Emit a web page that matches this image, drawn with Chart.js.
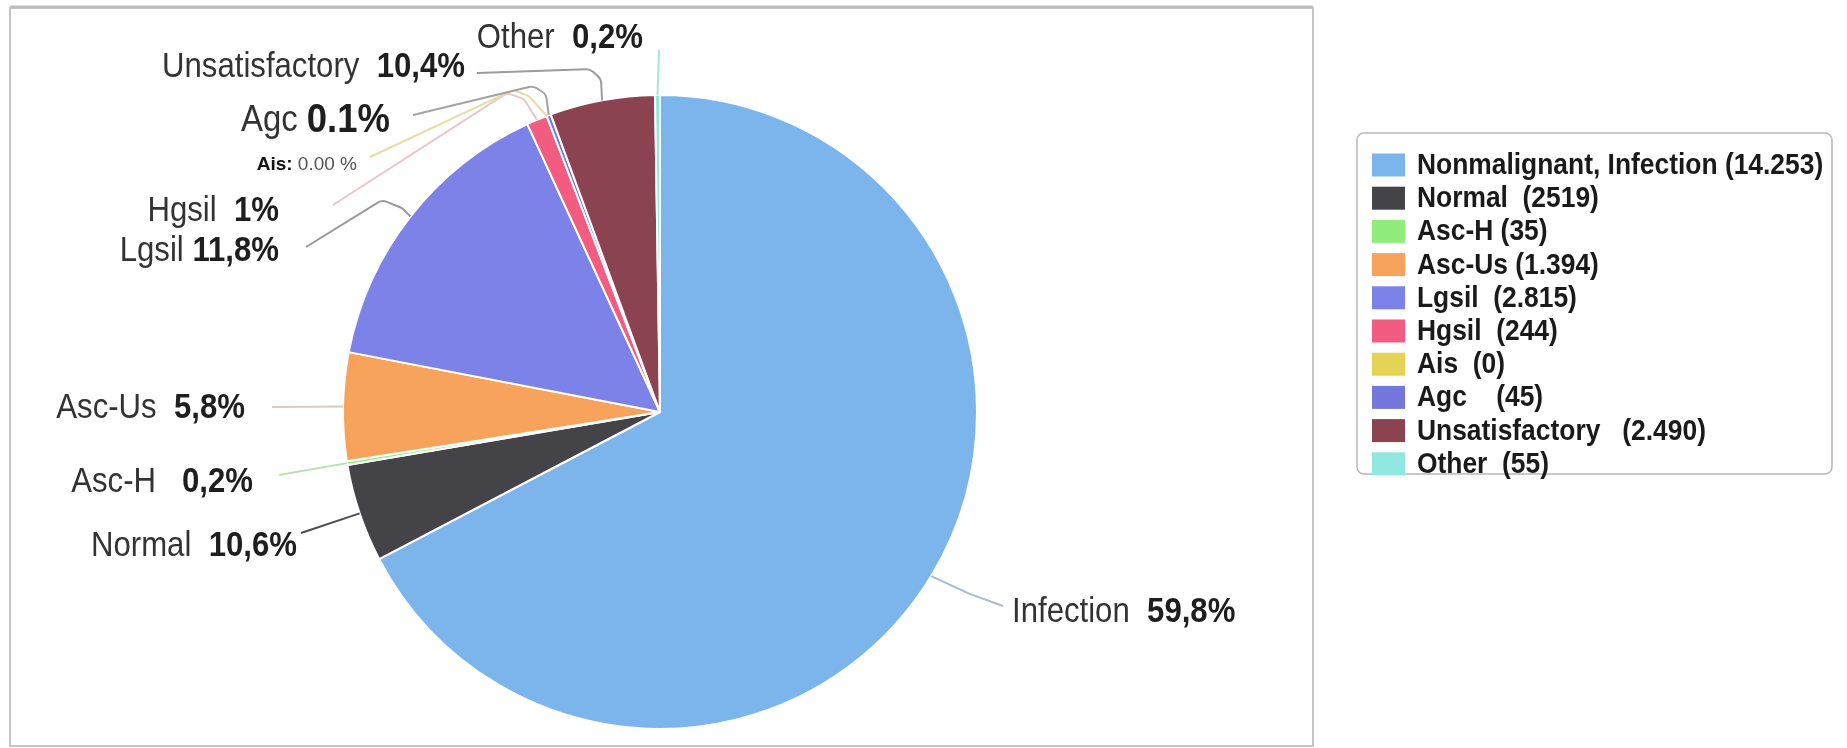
<!DOCTYPE html>
<html>
<head>
<meta charset="utf-8">
<script src="https://cdn.jsdelivr.net/npm/chart.js@4.4.1/dist/chart.umd.min.js"></script>
<style>
html,body{margin:0;padding:0;background:#fff;}
canvas{display:block;}
</style>
</head>
<body>
<canvas id="c" width="1847" height="748"></canvas>
<script>
// ---- data ----
const categories = ['Infection','Normal','Asc-H','Asc-Us','Lgsil','Hgsil','Ais','Agc','Unsatisfactory','Other'];
const legendNames = ['Nonmalignant, Infection','Normal','Asc-H','Asc-Us','Lgsil','Hgsil','Ais','Agc','Unsatisfactory','Other'];
const countLabels = ['14.253','2519','35','1.394','2.815','244','0','45','2.490','55'];
const percentLabels = ['59,8%','10,6%','0,2%','5,8%','11,8%','1%','0.00 %','0.1%','10,4%','0,2%'];
// slice sizes as drawn in the picture (percent of the circle)
const sliceShares = [67.3, 5.0, 0.2, 5.5, 15.1, 1.05, 0, 0.22, 5.35, 0.25];

// ---- styles ----
const sliceColors = ['#7cb5ec','#434348','#90ed7d','#f7a35c','#7d82e8','#f15c80','#e4d354','#7478dc','#8b4352','#91e8e1'];
const connectorColors = ['#a9bccb','#4d4d52','#b9e2b0','#d9ccbd','#9a9a9a','#ebc6c6','#e7dca6','#a3a3a3','#9c9c9c','#a8e3de'];
const legendGaps = [' ','  ',' ',' ','  ','  ','  ','    ','   ','  '];
const FONT = "'Liberation Sans', Arial, sans-serif";
const TEXT_SX = 0.89;
const labelLayout = [
  {x:1012, y:612, align:'left',  sep:'  ', size:35, pctSize:35, path:[[1003,606],[970,594]]},
  {x:297,  y:546, align:'right', sep:'  ', size:35, pctSize:35, path:[[301,533]]},
  {x:253,  y:482, align:'right', sep:'   ',size:35, pctSize:35, path:[[279,475]]},
  {x:245,  y:408, align:'right', sep:'  ', size:35, pctSize:35, path:[[272,407]]},
  {x:279,  y:251, align:'right', sep:' ',  size:35, pctSize:35, path:[[306,247],[382,200],[402,208]]},
  {x:279,  y:211, align:'right', sep:'  ', size:35, pctSize:35, path:[[333,205],[507,93],[524,99]]},
  {x:357,  y:165, align:'right', sep:': ', size:19, pctSize:19, nameBold:true, pctNormal:true, path:[[370,157],[513,90],[529,96]]},
  {x:390,  y:121, align:'right', sep:' ',  size:37, pctSize:41, path:[[413,115],[533,86],[546,94]]},
  {x:465,  y:67,  align:'right', sep:'  ', size:35, pctSize:35, path:[[477,73],[590,69],[601,79]]},
  {x:643,  y:38,  align:'right', sep:'  ', size:35, pctSize:35, path:[[659,50]]}
];
const legendBox = {x:1357, y:133, w:475, h:341, swX:1372, swW:33, swH:23, textX:1417, firstY:165, step:33.2, size:29, sx:0.91};

function drawScaled(ctx, text, x, y, sx) {
  ctx.save();
  ctx.translate(x, y);
  ctx.scale(sx, 1);
  ctx.fillText(text, 0, 0);
  ctx.restore();
}

const decorPlugin = {
  id: 'decor',
  beforeDraw(chart) {
    const ctx = chart.ctx;
    ctx.save();
    ctx.fillStyle = '#fff';
    ctx.fillRect(0, 0, chart.width, chart.height);
    ctx.strokeStyle = '#c6c6c6';
    ctx.lineWidth = 2;
    ctx.strokeRect(10, 8, 1303, 738);
    ctx.strokeStyle = '#bdbdbd';
    ctx.lineWidth = 3;
    ctx.beginPath(); ctx.moveTo(10, 7); ctx.lineTo(1313, 7); ctx.stroke();
    ctx.restore();
  },
  afterDatasetsDraw(chart) {
    const ctx = chart.ctx;
    const meta = chart.getDatasetMeta(0);
    ctx.save();
    // connectors
    meta.data.forEach((arc, i) => {
      const L = labelLayout[i];
      const p = arc.getProps(['x','y','startAngle','endAngle','outerRadius'], true);
      const mid = (p.startAngle + p.endAngle) / 2;
      const rim = [p.x + Math.cos(mid) * p.outerRadius, p.y + Math.sin(mid) * p.outerRadius];
      const pts = L.path.concat([rim]);
      ctx.beginPath();
      ctx.strokeStyle = connectorColors[i];
      ctx.lineWidth = 2;
      ctx.moveTo(pts[0][0], pts[0][1]);
      for (let k = 1; k < pts.length - 1; k++) {
        ctx.arcTo(pts[k][0], pts[k][1], pts[k+1][0], pts[k+1][1], 10);
      }
      ctx.lineTo(pts[pts.length-1][0], pts[pts.length-1][1]);
      ctx.stroke();
    });
    // labels
    ctx.textBaseline = 'middle';
    ctx.textAlign = 'left';
    categories.forEach((name, i) => {
      const L = labelLayout[i];
      const sx = L.size < 25 ? 1 : TEXT_SX;
      const nameFont = (L.nameBold ? 'bold ' : '') + L.size + 'px ' + FONT;
      const pctFont = (L.pctNormal ? '' : 'bold ') + L.pctSize + 'px ' + FONT;
      const nameText = name + L.sep;
      ctx.font = nameFont; const wn = ctx.measureText(nameText).width * sx;
      ctx.font = pctFont; const wp = ctx.measureText(percentLabels[i]).width * sx;
      const x0 = L.align === 'left' ? L.x : L.x - wn - wp;
      ctx.font = nameFont; ctx.fillStyle = L.nameBold ? '#111' : '#333';
      drawScaled(ctx, nameText, x0, L.y, sx);
      ctx.font = pctFont; ctx.fillStyle = L.pctNormal ? '#555' : '#1e1e1e';
      drawScaled(ctx, percentLabels[i], x0 + wn, L.y, sx);
    });
    // legend
    const B = legendBox;
    ctx.beginPath();
    ctx.strokeStyle = '#b8b8b8';
    ctx.lineWidth = 1.5;
    ctx.roundRect(B.x, B.y, B.w, B.h, 7);
    ctx.stroke();
    ctx.font = 'bold ' + B.size + 'px ' + FONT;
    legendNames.forEach((n, i) => {
      const cy = B.firstY + i * B.step;
      ctx.fillStyle = sliceColors[i];
      ctx.fillRect(B.swX, cy - B.swH/2, B.swW, B.swH);
      ctx.fillStyle = '#1a1a1a';
      drawScaled(ctx, n + legendGaps[i] + '(' + countLabels[i] + ')', B.textX, cy + 1, B.sx);
    });
    ctx.restore();
  }
};

new Chart(document.getElementById('c'), {
  type: 'pie',
  data: {
    labels: categories,
    datasets: [{
      data: sliceShares,
      backgroundColor: sliceColors,
      borderColor: '#ffffff',
      borderWidth: 2,
      radius: 317
    }]
  },
  options: {
    responsive: false,
    animation: false,
    layout: { padding: { left: 320, right: 847, top: 82, bottom: 6 } },
    plugins: { legend: { display: false }, tooltip: { enabled: false } }
  },
  plugins: [decorPlugin]
});
</script>
</body>
</html>
